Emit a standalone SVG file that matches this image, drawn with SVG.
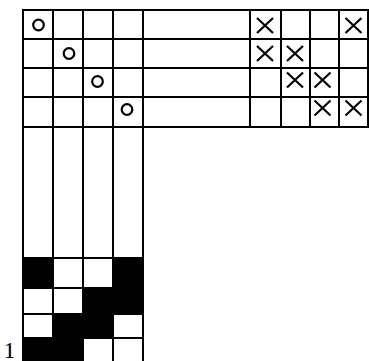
<svg xmlns="http://www.w3.org/2000/svg" width="369" height="361" viewBox="0 0 369 361">
<style>
.g{stroke:#000;stroke-width:2;fill:none}
.o{stroke:#000;stroke-width:2.2;fill:none}
.x{stroke:#000;stroke-width:2.2}
.b{fill:#000}
.t{font-family:"Liberation Serif",serif;font-size:24px;fill:#000}
</style>
<rect width="369" height="361" fill="#fff"/>
<g id="fills">
<rect class="b" x="23" y="258" width="30" height="30"/>
<rect class="b" x="113" y="258" width="30" height="30"/>
<rect class="b" x="83" y="288" width="60" height="26"/>
<rect class="b" x="53" y="314" width="60" height="24"/>
<rect class="b" x="23" y="338" width="60" height="23"/>
</g>
<g id="grid" class="g">
<path d="M22 10H369M22 39H369M22 68H369M22 97H369M22 127H369"/>
<path d="M368 9V128M339 9V128M310 9V128M281 9V128M250 9V128"/>
<path d="M23 9V361M53 9V361M83 9V361M113 9V361M143 9V361"/>
<path d="M23 258H143M23 288H143M23 314H143M23 338H143"/>
</g>
<g id="circles" class="o">
<circle cx="38.5" cy="25" r="5.3"/>
<circle cx="69" cy="53.5" r="5.3"/>
<circle cx="97.5" cy="81.5" r="5.3"/>
<circle cx="127" cy="109.5" r="5.3"/>
</g>
<g id="crosses" class="x">
<path d="M257 18L273 33M273 18L257 33"/>
<path d="M345.5 18L361.5 33M361.5 18L345.5 33"/>
<path d="M257 46L273 61M273 46L257 61"/>
<path d="M287 46L303 61M303 46L287 61"/>
<path d="M287 72.5L303 87.5M303 72.5L287 87.5"/>
<path d="M314.5 72.5L330.5 87.5M330.5 72.5L314.5 87.5"/>
<path d="M314.5 100.5L330.5 115.5M330.5 100.5L314.5 115.5"/>
<path d="M345.5 100.5L361.5 115.5M361.5 100.5L345.5 115.5"/>
</g>
<text class="t" x="9.5" y="358" text-anchor="middle">1</text>
</svg>
